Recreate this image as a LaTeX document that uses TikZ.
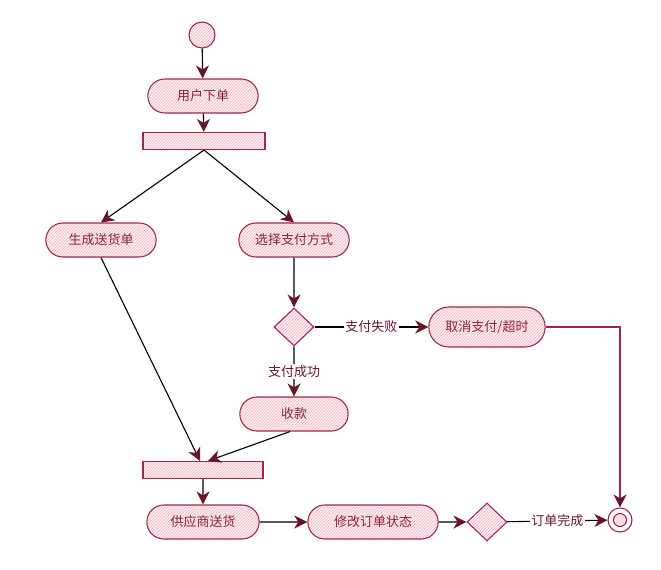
\documentclass[tikz,border=0pt]{standalone}
\usepackage{fontspec}
\setmainfont{Noto Sans CJK SC}
\usetikzlibrary{shapes.geometric, shapes.misc, arrows.meta, positioning, patterns}
\usepackage{xcolor}
\definecolor{SketchRed}{RGB}{158,42,74}
\definecolor{ArrowRed}{RGB}{105,20,42}
\definecolor{TextRed}{RGB}{140,36,62}
\definecolor{HatchPink}{RGB}{236,178,192}
\definecolor{FillPink}{RGB}{253,240,243}

\begin{document}
\begin{tikzpicture}[x=1pt, y=-1pt,
          hatched/.style={draw=SketchRed, line width=1.1pt, preaction={fill=FillPink}, pattern=north east lines, pattern color=HatchPink},
          action/.style={rounded rectangle, hatched, minimum width=117pt, minimum height=34pt, font=\fontsize{13}{15}\selectfont, text=TextRed},
          bar/.style={rectangle, hatched, minimum width=122pt, minimum height=17pt},
          choice/.style={diamond, hatched, minimum width=40pt, minimum height=38pt, inner sep=0pt},
          initial/.style={circle, hatched, minimum size=26pt, inner sep=0pt},
          final/.style={circle, draw=SketchRed, line width=1.1pt, minimum size=24pt, inner sep=0pt},
          flow/.style={black, line width=1.1pt, -{Stealth[length=13pt, width=13pt, inset=4pt, color=ArrowRed]}},
          guard/.style={fill=white, inner sep=1.5pt, font=\fontsize{13}{15}\selectfont, text=ArrowRed}
        ]
          \useasboundingbox (0,0) rectangle (661,570);

          % start and order
          \node (start) [initial] at (202,35) {};
          \node (order) [action] at (203,96) {用户下单};
          \node (fork) [bar] at (204,141) {};

          % two branches
          \node (ship) [action] at (101,240) {生成送货单};
          \node (pay) [action] at (294,240) {选择支付方式};
          \node (check) [choice] at (294,327) {};
          \node (cancel) [action, minimum width=123pt, minimum height=40pt] at (487,327) {取消支付/超时};
          \node (receive) [action, minimum width=115pt] at (294,414) {收款};

          % join and finish
          \node (join) [bar, minimum width=120pt] at (203,470) {};
          \node (deliver) [action, minimum width=119pt] at (203,522) {供应商送货};
          \node (update) [action, minimum width=137pt] at (373,522) {修改订单状态};
          \node (done) [choice] at (487,522) {};
          \node (finish) [final] at (620,520) {};
          \node (finishdot) [circle, hatched, minimum size=13pt, inner sep=0pt] at (finish) {};

          \draw[flow] (start) -- (order);
          \draw[flow] (order) -- (fork);
          \draw[flow] (fork.south) -- (ship.north);
          \draw[flow] (fork.south) -- (pay.north);
          \draw[flow] (pay) -- (check);
          \draw[flow] (check) -- node[guard] {支付失败} (cancel);
          \draw[flow] (check) -- node[guard] {支付成功} (receive);
          \draw[flow] (ship.south) -- ([xshift=-3pt]join.north);
          \draw[flow] ([xshift=-4pt]receive.south) -- ([xshift=5pt]join.north);
          \draw[flow] (join) -- (deliver);
          \draw[flow] (deliver) -- (update);
          \draw[flow] (update) -- (done);
          \draw[flow] (done) -- node[guard] {订单完成} (finish);
          \draw[flow, SketchRed] (cancel.east) -| (finish.north);
        \end{tikzpicture}
\end{document}
